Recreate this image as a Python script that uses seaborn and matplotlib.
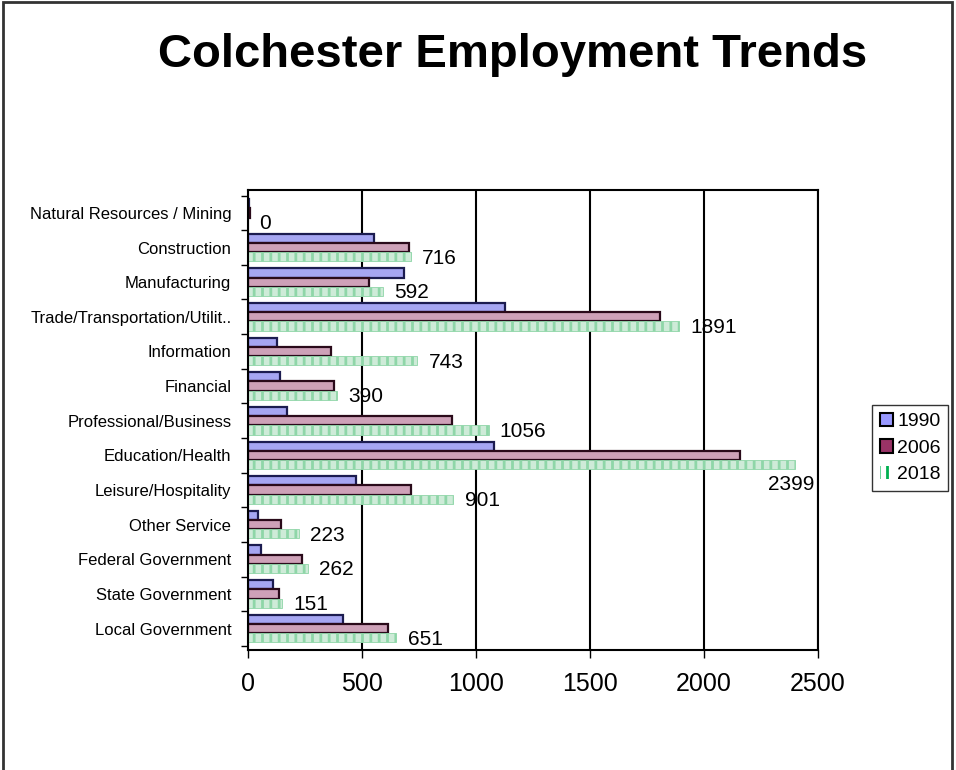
import numpy as np
import pandas as pd
import matplotlib
matplotlib.use('Agg')
import matplotlib.pyplot as plt
import matplotlib.patches as mpatches
import seaborn as sns

# categories top to bottom, as in the chart
sectors = ['Natural Resources / Mining', 'Construction', 'Manufacturing',
           'Trade/Transportation/Utilit..', 'Information', 'Financial',
           'Professional/Business', 'Education/Health', 'Leisure/Hospitality',
           'Other Service', 'Federal Government', 'State Government',
           'Local Government']
years = ['1990', '2006', '2018']

# values (only 2018 is labelled)
emp_1990 = [5, 553, 686, 1128, 128, 142, 172, 1080, 473, 44, 57, 111, 416]
emp_2006 = [10, 706, 531, 1805, 363, 376, 894, 2159, 717, 146, 239, 137, 615]
emp_2018 = [0, 716, 592, 1891, 743, 390, 1056, 2399, 901, 223, 262, 151, 651]

xticks = [0, 500, 1000, 1500, 2000, 2500]

df = pd.DataFrame({
    'sector': sectors * 3,
    'year': np.repeat(years, len(sectors)),
    'jobs': emp_1990 + emp_2006 + emp_2018,
})

sns.set_style('white')
plt.rcParams['font.family'] = ['Liberation Sans', 'DejaVu Sans']
plt.rcParams['hatch.linewidth'] = 2.0
for k in ['text.color', 'axes.labelcolor', 'xtick.color', 'ytick.color']:
    plt.rcParams[k] = 'black'

fig = plt.figure(figsize=(9.56, 7.7), dpi=100)
ax = fig.add_axes([0.2594, 0.1558, 0.5962, 0.5974])

palette = {'1990': '#9999ff', '2006': '#d59ab8', '2018': '#c9f0d6'}
sns.barplot(data=df, x='jobs', y='sector', hue='year', orient='h',
            palette=palette, order=sectors, hue_order=years,
            width=0.8, ax=ax, legend=False)

# style each series like the old excel fills
edge = {'1990': '#1c1c50', '2006': '#2a0a1a', '2018': '#8fd6a8'}
for yr, cont in zip(years, ax.containers):
    for p in cont:
        p.set_edgecolor(edge[yr])
        p.set_linewidth(1.6 if yr != '2018' else 0.6)
        if yr == '2018':
            p.set_hatch('||')

ax.set_xlim(0, 2500)
ax.set_ylim(12.62, -0.66)
ax.set_xticks(xticks)
ax.set_xticklabels([str(t) for t in xticks])
ax.set_xlabel('')
ax.set_ylabel('')

ax.grid(axis='x', color='black', linewidth=1.5)
ax.set_axisbelow(True)
for s in ax.spines.values():
    s.set_visible(True)
    s.set_color('black')
    s.set_linewidth(1.5)

ax.tick_params(axis='x', labelsize=18, length=6, width=1, direction='out',
               pad=10, bottom=True)
ax.tick_params(axis='y', labelsize=12, length=0, pad=12)
ax.set_yticks(np.arange(-0.5, 13, 1), minor=True)
ax.tick_params(axis='y', which='minor', length=5, width=1, left=True)

# data labels for the 2018 series
xmax = ax.get_xlim()[1]
for p, v in zip(ax.containers[2], emp_2018):
    yc = p.get_y() + p.get_height() / 2
    if v > 0.9 * xmax:
        ax.annotate(f'{v}', (v, yc), xytext=(-3, -14), textcoords='offset points',
                    ha='center', va='center', fontsize=15)
    else:
        ax.annotate(f'{v}', (v, yc), xytext=(8, -1), textcoords='offset points',
                    ha='left', va='center', fontsize=15)

# legend
handles = [
    mpatches.Patch(facecolor='#9999ff', edgecolor='black', linewidth=1.5, label='1990'),
    mpatches.Patch(facecolor='#993366', edgecolor='black', linewidth=1.5, label='2006'),
    mpatches.Patch(facecolor='white', edgecolor='#00b050', linewidth=0, hatch='| |', label='2018'),
]
fig.legend(handles=handles, loc='upper left', bbox_to_anchor=(0.912, 0.474),
           fontsize=14, frameon=True, fancybox=False, edgecolor='black',
           handlelength=0.7, handleheight=0.7, handletextpad=0.2,
           borderpad=0.4, labelspacing=0.45, borderaxespad=0)

fig.text(0.536, 0.929, 'Colchester Employment Trends', ha='center', va='center',
         fontsize=34, fontweight='bold')

# outer border of the slide
border = mpatches.Rectangle((0.003, -0.05), 0.993, 1.048, transform=fig.transFigure,
                            fill=False, edgecolor='#333333', linewidth=2)
fig.patches.append(border)

fig.savefig('out.png', dpi=100)
